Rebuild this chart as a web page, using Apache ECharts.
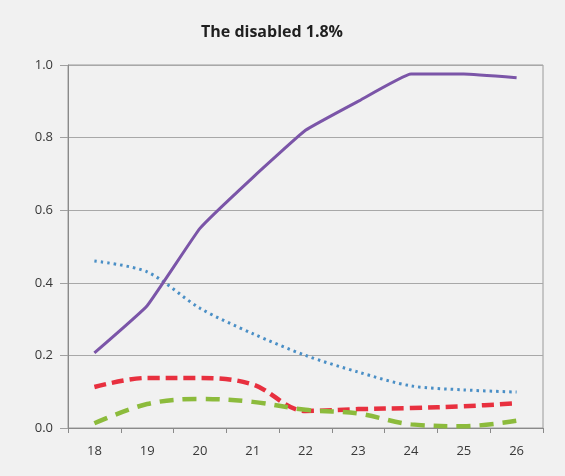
<!DOCTYPE html>
<html><head><meta charset="utf-8">
<script src="https://cdn.jsdelivr.net/npm/echarts@6/dist/echarts.min.js"></script>
<style>html,body{margin:0;padding:0;background:#f1f1f1}#c{width:565px;height:476px}</style>
</head><body><div id="c"></div>
<script>
const categories = ['18','19','20','21','22','23','24','25','26'];
const purple = [0.207, 0.337, 0.55, 0.69, 0.82, 0.90, 0.975, 0.975, 0.965];
const blue = [0.46, 0.43, 0.33, 0.26, 0.20, 0.154, 0.116, 0.105, 0.099];
const red = [0.113, 0.138, 0.138, 0.12, 0.047, 0.052, 0.055, 0.06, 0.068];
const green = [0.013, 0.066, 0.08, 0.072, 0.05, 0.04, 0.01, 0.005, 0.02];
const yTicks = [0, 0.2, 0.4, 0.6, 0.8, 1.0];

const chart = echarts.init(document.getElementById('c'));
chart.setOption({
  backgroundColor: '#f1f1f1',
  animation: false,
  title: {
    text: 'The disabled 1.8%', left: 267, top: 19, textAlign: 'center',
    textStyle: {fontFamily: 'Open Sans', fontSize: 16, fontWeight: 'bold', color: '#1f1f1f'}
  },
  grid: {left: 68, right: 22, top: 65, bottom: 48, show: true, borderColor: '#9a9a9a', borderWidth: 1, backgroundColor: 'transparent'},
  xAxis: {
    type: 'category', data: categories, boundaryGap: true,
    axisLine: {lineStyle: {color: '#8a8a8a', width: 1}},
    axisTick: {show: true, length: 5, lineStyle: {color: '#8a8a8a'}},
    axisLabel: {fontFamily: 'Open Sans', fontSize: 13, color: '#383838', margin: 17}
  },
  yAxis: {
    type: 'value', min: 0, max: 1, interval: 0.2,
    axisLine: {show: true, lineStyle: {color: '#8a8a8a', width: 1}},
    axisTick: {show: true, length: 8, lineStyle: {color: '#a0a0a0'}},
    splitLine: {lineStyle: {color: '#a8a8a8', width: 1}},
    axisLabel: {fontFamily: 'Open Sans', fontSize: 13, color: '#383838', margin: 15,
      formatter: v => yTicks.includes(Math.round(v*10)/10) ? v.toFixed(1) : ''}
  },
  series: [
    {type: 'line', data: blue, smooth: 0.3, symbol: 'none', lineStyle: {color: '#4a8fc6', width: 3, type: [2.5, 4]}},
    {type: 'line', data: red, smooth: 0.35, symbol: 'none', lineStyle: {color: '#e8303f', width: 4.5, type: [12, 6]}},
    {type: 'line', data: green, smooth: 0.35, symbol: 'none', lineStyle: {color: '#8cbb3c', width: 4.5, type: [14, 9]}},
    {type: 'line', data: purple, smooth: 0.1, symbol: 'none', lineStyle: {color: '#7b55a8', width: 3}}
  ]
});
</script></body></html>
